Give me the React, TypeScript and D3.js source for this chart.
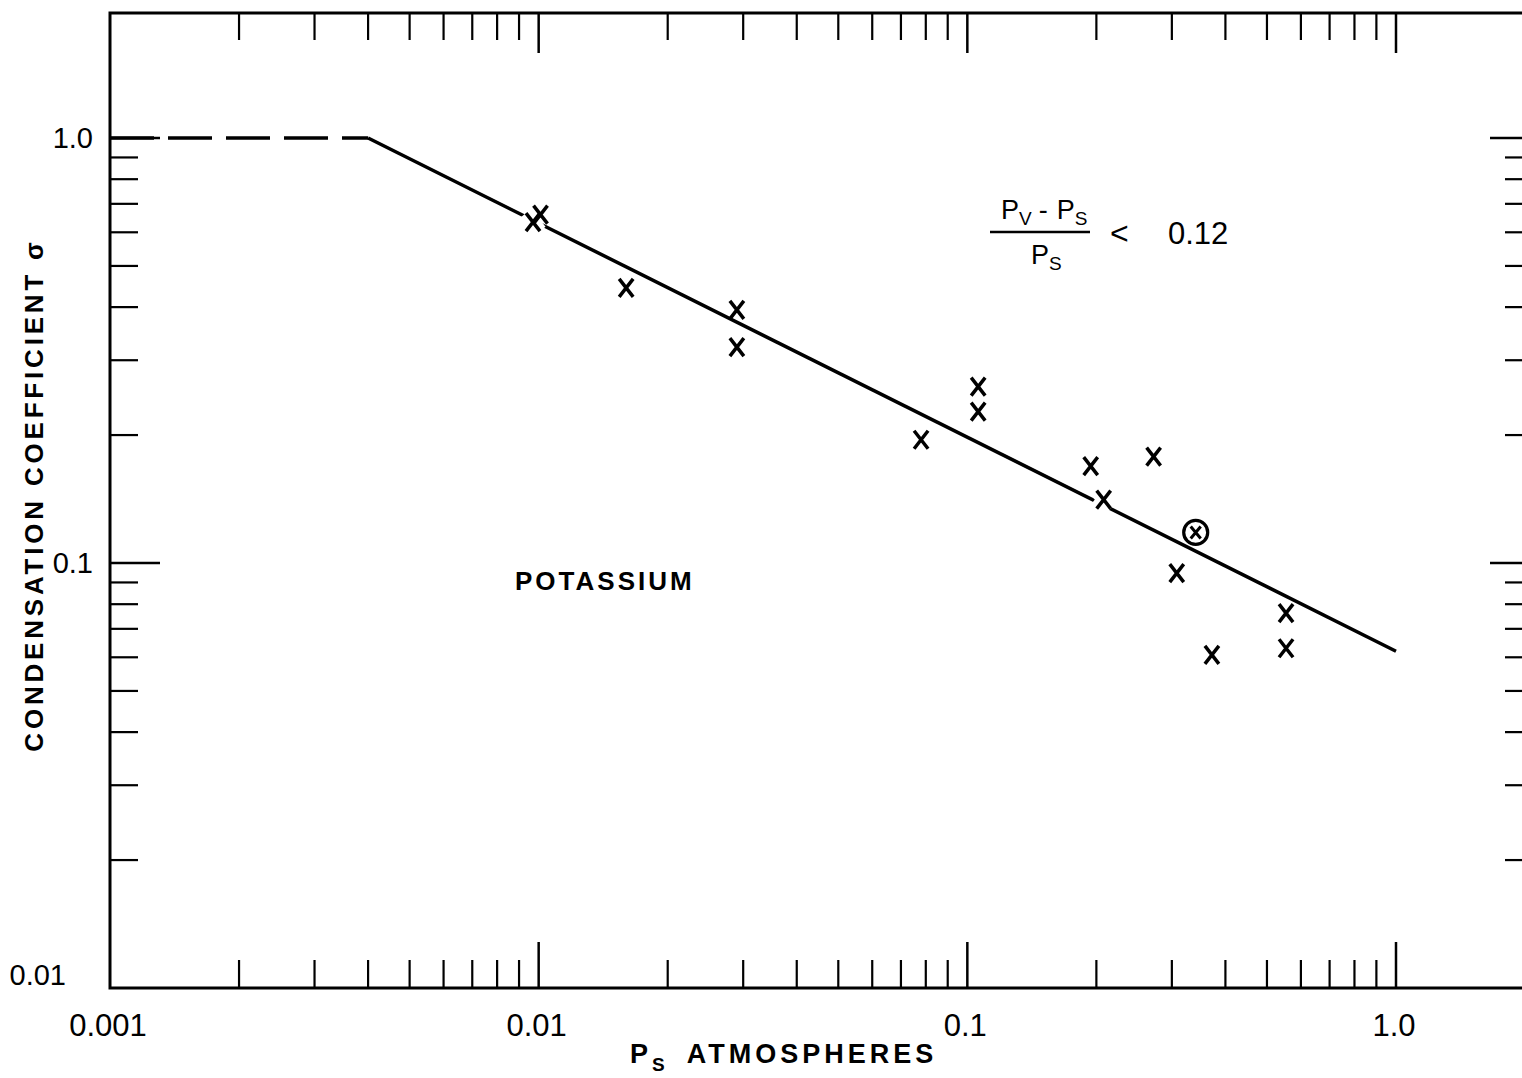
import React from 'react';
import { scaleLog, line } from 'd3';

// measured points (P_s in atm, condensation coefficient)
const pressure = [0.0097, 0.0101, 0.016, 0.029, 0.029, 0.078, 0.106, 0.106, 0.194, 0.208, 0.272, 0.308, 0.372, 0.554, 0.554];
const sigma = [0.634, 0.66, 0.444, 0.394, 0.322, 0.195, 0.26, 0.227, 0.169, 0.141, 0.178, 0.0947, 0.0608, 0.0762, 0.063];

// circled point
const circledPressure = [0.341];
const circledSigma = [0.118];

// correlation line: dashed part then solid part
const dashedP = [0.001, 0.004];
const dashedSigma = [1.0, 1.0];
const solidP = [0.004, 1.0];
const solidSigma = [1.0, 0.062];

const xMajor = [0.001, 0.01, 0.1, 1.0];
const xMajorLabels = ['0.001', '0.01', '0.1', '1.0'];
const yMajor = [0.01, 0.1, 1.0];
const yMajorLabels = ['0.01', '0.1', '1.0'];
const minorSteps = [2, 3, 4, 5, 6, 7, 8, 9];

const W = 1522;
const H = 1078;
const left = 110;
const top = 13;
const bottom = 988;
const right = 1522;

const font = '"Liberation Sans", "DejaVu Sans", sans-serif';

const x = scaleLog().domain([0.001, 1]).range([110, 1396]);
const y = scaleLog().domain([0.01, 1]).range([988, 138]);

const App: React.FC = () => {
  const xMinor: number[] = [];
  [0.001, 0.01, 0.1].forEach(d => minorSteps.forEach(m => xMinor.push(d * m)));
  const yMinor: number[] = [];
  [0.01, 0.1].forEach(d => minorSteps.forEach(m => yMinor.push(d * m)));

  const lineGen = line<[number, number]>().x(d => x(d[0])).y(d => y(d[1]));
  const dashedPath = lineGen(dashedP.map((p, i) => [p, dashedSigma[i]]));
  const solidPath = lineGen(solidP.map((p, i) => [p, solidSigma[i]]));

  // distance in pixels from a point to the solid line (for the white gap)
  const x0 = x(solidP[0]), y0 = y(solidSigma[0]), x1 = x(solidP[1]), y1 = y(solidSigma[1]);
  const distToLine = (px: number, py: number) => {
    const dx = x1 - x0, dy = y1 - y0;
    return Math.abs(dy * (px - x0) - dx * (py - y0)) / Math.sqrt(dx * dx + dy * dy);
  };

  const cross = (cx: number, cy: number, hw: number, hh: number) =>
    `M${cx - hw},${cy - hh}L${cx + hw},${cy + hh}M${cx + hw},${cy - hh}L${cx - hw},${cy + hh}`;

  const pts = pressure.map((p, i) => ({ px: x(p), py: y(sigma[i]) }));

  return (
    <svg width={W} height={H} style={{ position: 'absolute', left: 0, top: 0, background: '#fff' }}>
      <rect x={0} y={0} width={W} height={H} fill="#fff" />
      {/* frame */}
      <path d={`M${right},${top}H${left}V${bottom}H${right}`} fill="none" stroke="#000" strokeWidth={3} />

      {/* bottom + top ticks */}
      {xMinor.map((v, i) => (
        <g key={'xm' + i} stroke="#000" strokeWidth={2.2}>
          <line x1={x(v)} x2={x(v)} y1={bottom} y2={bottom - 28} />
          <line x1={x(v)} x2={x(v)} y1={top} y2={top + 27} />
        </g>
      ))}
      {xMajor.slice(1).map((v, i) => (
        <g key={'xM' + i} stroke="#000" strokeWidth={2.5}>
          <line x1={x(v)} x2={x(v)} y1={bottom} y2={bottom - 46} />
          <line x1={x(v)} x2={x(v)} y1={top} y2={top + 40} />
        </g>
      ))}

      {/* left + right ticks */}
      {yMinor.map((v, i) => (
        <g key={'ym' + i} stroke="#000" strokeWidth={2.2}>
          <line x1={left} x2={left + 28} y1={y(v)} y2={y(v)} />
          <line x1={right} x2={right - 17} y1={y(v)} y2={y(v)} />
        </g>
      ))}
      {yMajor.slice(1).map((v, i) => (
        <g key={'yM' + i} stroke="#000" strokeWidth={2.5}>
          <line x1={left} x2={left + 50} y1={y(v)} y2={y(v)} />
          <line x1={right} x2={right - 32} y1={y(v)} y2={y(v)} />
        </g>
      ))}

      {/* tick labels */}
      {xMajor.map((v, i) => (
        <text key={'xl' + i} x={x(v) - 2} y={1036} textAnchor="middle" fontFamily={font} fontSize={31}>
          {xMajorLabels[i]}
        </text>
      ))}
      {yMajor.map((v, i) => (
        <text key={'yl' + i} x={v === 0.01 ? 66 : 93} y={(v === 0.01 ? y(v) - 13 : y(v)) + 10}
          textAnchor="end" fontFamily={font} fontSize={29}>
          {yMajorLabels[i]}
        </text>
      ))}

      {/* correlation line */}
      <path d={dashedPath || ''} fill="none" stroke="#000" strokeWidth={3.5} strokeDasharray="44,14" />
      <path d={solidPath || ''} fill="none" stroke="#000" strokeWidth={3.5} />

      {/* data markers */}
      {pts.map((d, i) =>
        distToLine(d.px, d.py) < 8 ? (
          <path key={'h' + i} d={cross(d.px, d.py, 7, 9)} stroke="#fff" strokeWidth={14} />
        ) : null
      )}
      {pts.map((d, i) => (
        <path key={'p' + i} d={cross(d.px, d.py, 7, 9)} stroke="#000" strokeWidth={3.5} fill="none" />
      ))}
      {circledPressure.map((p, i) => (
        <g key={'c' + i}>
          <circle cx={x(p)} cy={y(circledSigma[i])} r={12} fill="none" stroke="#000" strokeWidth={3.2} />
          <path d={cross(x(p), y(circledSigma[i]), 5, 6)} stroke="#000" strokeWidth={3} />
        </g>
      ))}

      {/* annotations */}
      <text x={515} y={590} fontFamily={font} fontSize={26} fontWeight="bold" letterSpacing={3}>POTASSIUM</text>

      <g fontFamily={font}>
        <text x={1001} y={219} fontSize={27}>P<tspan fontSize={19} dy={6}>V</tspan><tspan dy={-6} dx={7}>-</tspan><tspan dx={9}>P</tspan><tspan fontSize={19} dy={6}>S</tspan></text>
        <line x1={990} x2={1090} y1={232} y2={232} stroke="#000" strokeWidth={2.5} />
        <text x={1031} y={264} fontSize={27}>P<tspan fontSize={19} dy={6}>S</tspan></text>
        <text x={1110} y={244} fontSize={32}>&lt;</text>
        <text x={1168} y={244} fontSize={31}>0.12</text>
      </g>

      {/* axis titles */}
      <text x={630} y={1063} fontFamily={font} fontSize={27} fontWeight="bold" letterSpacing={4}>
        P<tspan fontSize={19} dy={8}>S</tspan><tspan dy={-8} dx={18}>ATMOSPHERES</tspan>
      </text>
      <text transform="translate(43,495) rotate(-90)" textAnchor="middle" fontFamily={font} fontSize={26}
        fontWeight="bold" letterSpacing={3.8}>
        CONDENSATION  COEFFICIENT  σ
      </text>
    </svg>
  );
};

export default App;
